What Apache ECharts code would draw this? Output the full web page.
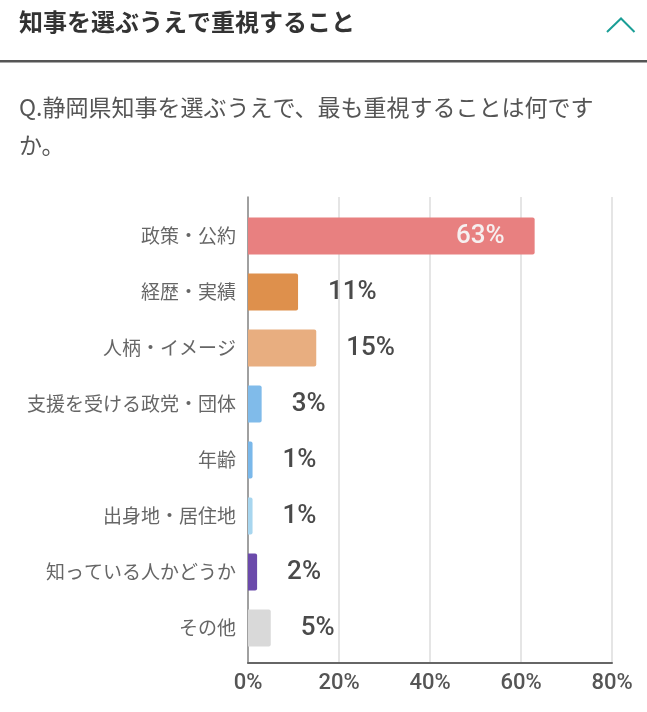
<!DOCTYPE html>
<html>
<head>
<meta charset="utf-8">
<script src="https://cdn.jsdelivr.net/npm/echarts@6/dist/echarts.min.js"></script>
<style>
html,body{margin:0;padding:0;background:#fff;}
#chart{width:647px;height:712px;}
</style>
</head>
<body>
<div id="chart"></div>
<script>
const headerTitle = '知事を選ぶうえで重視すること';
const questionText = 'Q.静岡県知事を選ぶうえで、最も重視することは何です\nか。';
const categories = ['政策・公約','経歴・実績','人柄・イメージ','支援を受ける政党・団体','年齢','出身地・居住地','知っている人かどうか','その他'];
const values = [63, 11, 15, 3, 1, 1, 2, 5];
const barColors = ['#e88080','#de904c','#e8ae80','#80bbea','#7ab8ea','#a8d6ef','#6b4aab','#d9d9d9'];
const axisMin = 0, axisMax = 80, axisStep = 20;

const jp = '"Noto Sans CJK JP", "Noto Sans", sans-serif';
const num = '"Roboto", "Noto Sans", sans-serif';

const chart = echarts.init(document.getElementById('chart'), null, {renderer: 'canvas'});
chart.setOption({
  animation: false,
  backgroundColor: '#fff',
  graphic: [
    {type: 'text', left: 19, top: 10, style: {text: headerTitle, fill: '#333', font: 'bold 24px ' + jp}},
    {type: 'polyline', shape: {points: [[607, 32], [621, 18.5], [634.5, 32]]}, style: {stroke: '#1a9e96', lineWidth: 2, fill: null}},
    {type: 'rect', shape: {x: 0, y: 60, width: 647, height: 2.5}, style: {fill: '#555'}},
    {type: 'text', left: 19, top: 88, style: {text: questionText, fill: '#555', font: '23px ' + jp, lineHeight: 38}}
  ],
  grid: [
    {left: 248, right: 35, top: 197, bottom: 49},
    {left: 248, right: 35, top: 208, bottom: 56}
  ],
  xAxis: [
    {
      gridIndex: 0, type: 'value', min: axisMin, max: axisMax, interval: axisStep,
      axisLine: {show: true, lineStyle: {color: '#666', width: 2}},
      axisTick: {show: false},
      splitLine: {show: true, lineStyle: {color: '#ddd', width: 1.5}},
      axisLabel: {formatter: '{value}%', color: '#555', fontSize: 22, fontWeight: 500, fontFamily: num, margin: 9}
    },
    {
      gridIndex: 1, type: 'value', min: axisMin, max: axisMax, interval: axisStep, show: false
    }
  ],
  yAxis: [
    {
      gridIndex: 0, type: 'value', min: 0, max: 1,
      axisLine: {show: true, lineStyle: {color: '#888', width: 1.5}},
      axisTick: {show: false}, axisLabel: {show: false}, splitLine: {show: false}
    },
    {
      gridIndex: 1, type: 'category', data: categories, inverse: true,
      axisLine: {show: false}, axisTick: {show: false}, splitLine: {show: false},
      axisLabel: {color: '#666', fontSize: 19, fontFamily: jp, margin: 12}
    }
  ],
  series: [{
    type: 'bar',
    xAxisIndex: 1, yAxisIndex: 1,
    barWidth: 37,
    data: values.map((v, i) => ({
      value: v,
      itemStyle: {color: barColors[i], borderRadius: [0, 2, 2, 0]},
      label: i === 0 ? {position: 'insideRight', distance: 30, color: '#f6f0f0'} : {}
    })),
    label: {
      show: true, position: 'right', distance: 30,
      formatter: '{c}%', color: '#4a4a4a', fontSize: 26, fontWeight: 500, fontFamily: num
    }
  }]
});
</script>
</body>
</html>
